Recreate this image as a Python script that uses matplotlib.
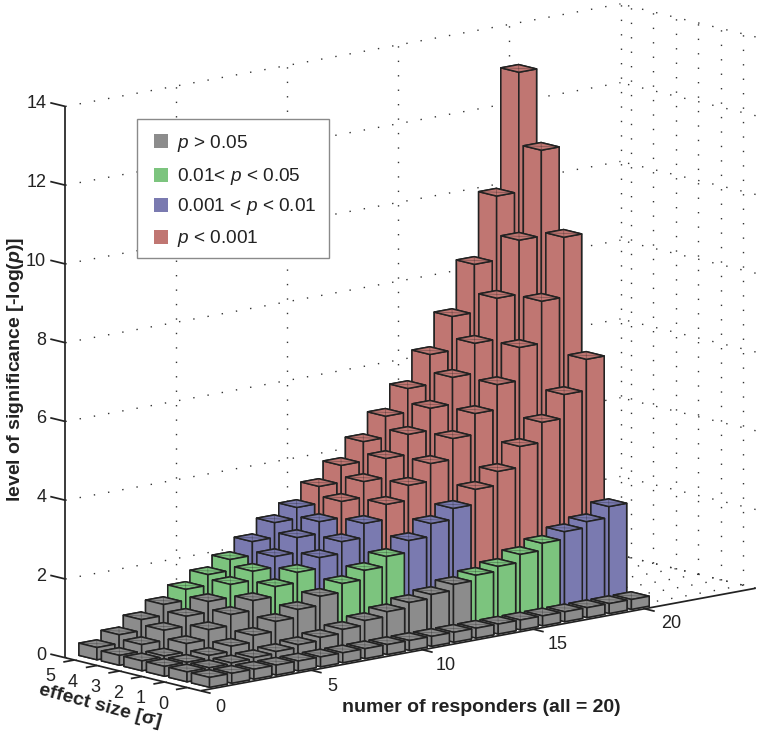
import numpy as np
import matplotlib
matplotlib.use("Agg")
import matplotlib.pyplot as plt
from matplotlib.patches import Rectangle
from mpl_toolkits.mplot3d import proj3d

plt.rcParams['font.family'] = ['Liberation Sans', 'DejaVu Sans']
plt.rcParams['mathtext.fontset'] = 'custom'
plt.rcParams['mathtext.rm'] = 'Liberation Sans'
plt.rcParams['mathtext.it'] = 'Liberation Sans:italic'
plt.rcParams['mathtext.bf'] = 'Liberation Sans:bold'
plt.rcParams['mathtext.bfit'] = 'Liberation Sans:italic:bold'

# ---- data ----
responders = list(range(1, 21))
effect_sizes = [0, 1, 2, 3, 4, 5]
sig_e0 = [0.25] * 20
sig_e1 = [0.25, 0.25, 0.27, 0.30, 0.35, 0.42, 0.50, 0.60, 0.72, 0.84,
          0.97, 1.07, 1.22, 1.35, 1.47, 1.67, 1.85, 2.04, 2.19, 2.47]
sig_e2 = [0.25, 0.25, 0.32, 0.45, 0.62, 0.87, 1.07, 1.30, 1.52, 1.75,
          2.00, 2.30, 2.63, 2.91, 3.29, 3.64, 4.17, 4.68, 5.28, 6.07]
sig_e3 = [0.25, 0.27, 0.48, 0.73, 1.01, 1.26, 1.51, 1.77, 2.04, 2.34,
          2.70, 3.08, 3.46, 3.91, 4.44, 4.97, 5.60, 6.44, 7.51, 9.03]
sig_e4 = [0.25, 0.42, 0.68, 0.93, 1.20, 1.53, 1.76, 2.03, 2.41, 2.71,
          3.12, 3.52, 4.00, 4.51, 5.07, 5.75, 6.51, 7.55, 8.92, 11.10]
sig_e5 = [0.31, 0.53, 0.81, 1.09, 1.37, 1.64, 1.92, 2.27, 2.65, 2.93,
          3.36, 3.79, 4.29, 4.83, 5.43, 6.19, 7.05, 8.27, 9.90, 12.94]
significance = [sig_e0, sig_e1, sig_e2, sig_e3, sig_e4, sig_e5]

thresholds = [1.301, 2.0, 3.0]
class_colors = ['#8c8c8c', '#7cc47e', '#7a7ab0', '#c07672']
class_labels = ['$p$ > 0.05', '0.01< $p$ < 0.05', '0.001 < $p$ < 0.01', '$p$ < 0.001']

r_ticks = [0, 5, 10, 15, 20]
e_ticks = [0, 1, 2, 3, 4, 5]
z_ticks = [0, 2, 4, 6, 8, 10, 12, 14]

# ---- layout ----
W, H = 758, 737
R_LIM = (0, 25)
E_LIM = (-0.45, 5.55)
Z_LIM = (0, 14)
BAR_W = 0.8
ROW_SHIFT = 0.14
E_TICK_SHIFT = 0.15
E_GRID_SHIFT = 0.1
INK = '#222222'

fig = plt.figure(figsize=(W / 100, H / 100), dpi=100, facecolor='white')
ax = fig.add_axes([0, 0, 1, 1], projection='3d', proj_type='ortho',
                  computed_zorder=False)
ax.set_xlim(*R_LIM, view_margin=0)
ax.set_ylim(*E_LIM, view_margin=0)
ax.set_zlim(*Z_LIM, view_margin=0)
ax.view_init(elev=12.27, azim=-131.0, roll=0)
ax.set_box_aspect((735, 205.8, 563.8))
ax.set_axis_off()

# place the square axes so that two box corners land on their target pixels
M = ax.get_proj()
ax_, ay_, _ = proj3d.proj_transform(R_LIM[0], E_LIM[0], Z_LIM[0], M)
bx_, by_, _ = proj3d.proj_transform(R_LIM[1], E_LIM[1], Z_LIM[1], M)
s = (619.5 - 199.5) / (bx_ - ax_)
vlo, vhi = -0.095, 0.09
side = s * (vhi - vlo)
left = 200.5 - s * (ax_ - vlo)
bottom = (H - 690.8) - s * (ay_ - vlo)
ax.set_position([left / W, bottom / H, side / W, side / H])


def label3d(x, y, z, text, **kw):
    """Text placed at a 3D data position, through the axes' projection."""
    px, py, _ = proj3d.proj_transform(x, y, z, M)
    ax.text2D(px, py, text, transform=ax.transData, **kw)


# ---- dotted grid ----
dot = dict(color='#333333', lw=1.0, ls=(0, (1.0, 9.4)), zorder=1, clip_on=False)
for z in z_ticks:
    ax.plot(R_LIM, [E_LIM[1]] * 2, [z] * 2, **dot)
    ax.plot([R_LIM[1]] * 2, E_LIM, [z] * 2, **dot)
for r in r_ticks[1:] + [25]:
    ax.plot([r, r], [E_LIM[1]] * 2, Z_LIM, **dot)
    ax.plot([r, r], E_LIM, [0, 0], **dot)
for e in e_ticks:
    eg = e + E_GRID_SHIFT
    ax.plot([R_LIM[1]] * 2, [eg, eg], Z_LIM, **dot)
    ax.plot(R_LIM, [eg, eg], [0, 0], **dot)

# ---- bars, painted back to front ----
order = 10
faint = dict(color=INK, lw=0.6, alpha=0.35, clip_on=False)
for ei in reversed(range(len(effect_sizes))):
    for ri in reversed(range(len(responders))):
        h = significance[ei][ri]
        col = class_colors[int(np.searchsorted(thresholds, h))]
        x0 = responders[ri] - BAR_W / 2
        y0 = effect_sizes[ei] + ROW_SHIFT - BAR_W / 2
        ax.bar3d(x0, y0, 0, BAR_W, BAR_W, h, color=col, edgecolor=INK,
                 linewidth=1.1, shade=False, zorder=order)
        # faint crossing lines seen on the top of each bar
        ax.plot([x0, x0 + BAR_W], [y0, y0 + BAR_W], [h, h], zorder=order + 0.5, **faint)
        ax.plot([x0, x0 + BAR_W], [y0 + BAR_W, y0], [h, h], zorder=order + 0.5, **faint)
        order += 1

# ---- axis lines and ticks ----
line = dict(color=INK, lw=1.25, zorder=order + 1, clip_on=False,
            solid_capstyle='butt')
ax.plot(R_LIM, [E_LIM[0]] * 2, [0, 0], **line)
ax.plot([0, 0], E_LIM, [0, 0], **line)
ax.plot([0, 0], [E_LIM[1]] * 2, Z_LIM, **line)

tick_font = dict(fontsize=13, color='#222222', zorder=order + 2)
for r in r_ticks:
    ax.plot([r, r], [E_LIM[0], E_LIM[0] - 0.45], [0, 0], **line)
    label3d(1.015 * r - 1.2, E_LIM[0] - 2.05, 0, str(r), ha='center', va='center', **tick_font)
for e in e_ticks:
    ep = e + E_TICK_SHIFT
    ax.plot([0, -0.5], [ep, ep], [0, 0], **line)
    label3d(-2.4, ep - 1.3, 0, str(e), ha='center', va='center', **tick_font)
for z in z_ticks:
    ax.plot([0, 0], [E_LIM[1], E_LIM[1] + 0.67], [z, z], **line)
    label3d(0, E_LIM[1] + 0.85, z - 0.05, str(z), ha='right', va='center', **tick_font)

# ---- axis titles ----
title_font = dict(fontsize=14, fontweight='bold', color='#222222', ha='center', va='center')
fig.text(481 / W, 1 - 707 / H, 'numer of responders (all = 20)', **title_font)
fig.text(100 / W, 1 - 706 / H, 'effect size [σ]', rotation=-15, rotation_mode='anchor', **title_font)
fig.text(16 / W, 1 - 369 / H, r'level of significance [-log($\mathbfit{p}$)]', rotation=90, **title_font)

# ---- legend ----
fig.add_artist(Rectangle((137 / W, 1 - 258 / H), 192 / W, 139 / H, transform=fig.transFigure,
                         facecolor='white', edgecolor='#8a8a8a', lw=1.0, zorder=5))
legend_y = [141, 175, 205, 237]
legend_base = [147.5, 180.7, 211, 242.7]
for col, lab, yc, yb in zip(class_colors, class_labels, legend_y, legend_base):
    fig.add_artist(Rectangle((153.5 / W, 1 - (yc + 7) / H), 14 / W, 14 / H, transform=fig.transFigure,
                             facecolor=col, edgecolor='none', zorder=6))
    fig.text(177 / W, 1 - yb / H, lab, fontsize=13.7, color='#222222',
             ha='left', va='baseline', zorder=6)

fig.savefig('out.png', dpi=100, facecolor='white')
